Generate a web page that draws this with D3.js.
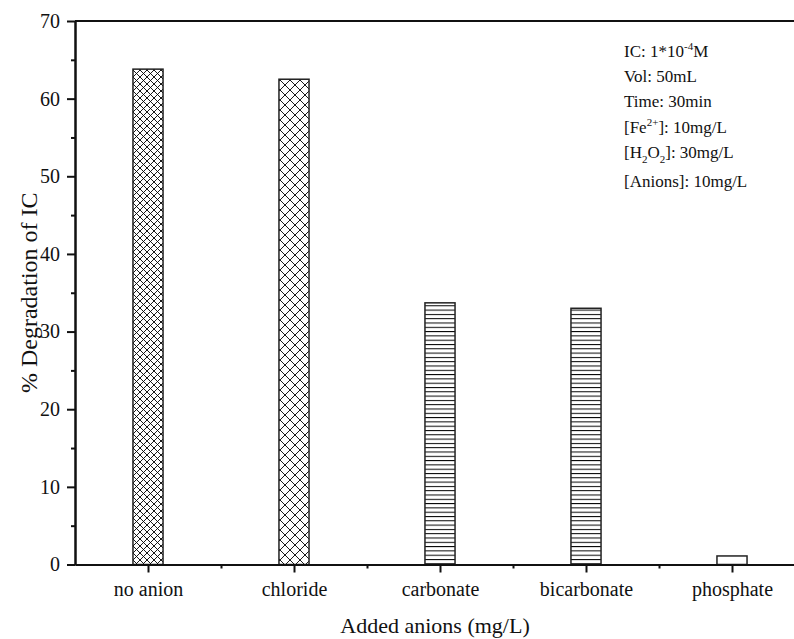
<!DOCTYPE html>
<html>
<head>
<meta charset="utf-8">
<script src="https://cdn.jsdelivr.net/npm/d3@7/dist/d3.min.js"></script>
<style>
  html, body { margin: 0; padding: 0; background: #fff; }
  svg { display: block; }
  text { font-family: "Liberation Serif", "Times New Roman", serif; fill: #111; }
</style>
</head>
<body>
<svg id="chart" width="794" height="639"></svg>
<script>
// Degradation of IC with different added anions
const categories = ["no anion", "chloride", "carbonate", "bicarbonate", "phosphate"];
const degradation = [63.8, 62.5, 33.7, 33.0, 1.1];
const fillKinds = ["cross-fine", "cross-coarse", "hlines", "hlines", "none"];
const yTicks = [0, 10, 20, 30, 40, 50, 60, 70];
const yMinorTicks = [5, 15, 25, 35, 45, 55, 65];
const xMinorTicks = [1.5, 2.5, 3.5, 4.5];

// Experimental conditions (segments: normal / superscript / subscript)
const conditions = [
  [["IC: 1*10", ""], ["-4", "sup"], ["M", ""]],
  [["Vol: 50mL", ""]],
  [["Time: 30min", ""]],
  [["[Fe", ""], ["2+", "sup"], ["]: 10mg/L", ""]],
  [["[H", ""], ["2", "sub"], ["O", ""], ["2", "sub"], ["]: 30mg/L", ""]],
  [["[Anions]: 10mg/L", ""]]
];

const svg = d3.select("#chart");
const W = 794, H = 639;
const plotLeft = 75, plotTop = 21, plotBottom = 564.5, plotRight = 805;

const x = d3.scaleLinear().domain([0.5, 5.5]).range([plotLeft, plotRight]);
const y = d3.scaleLinear().domain([0, 70]).range([plotBottom, plotTop]);

// Fill patterns
const defs = svg.append("defs");
function crossPattern(id, p) {
  const pat = defs.append("pattern").attr("id", id)
    .attr("patternUnits", "userSpaceOnUse").attr("width", p).attr("height", p);
  pat.append("rect").attr("width", p).attr("height", p).attr("fill", "#fff");
  pat.append("path")
    .attr("d", `M0,0L${p},${p}M${p},0L0,${p}`)
    .attr("stroke", "#000").attr("stroke-width", 0.9).attr("fill", "none");
}
crossPattern("cross-fine", 7);
crossPattern("cross-coarse", 10);
const hp = defs.append("pattern").attr("id", "hlines")
  .attr("patternUnits", "userSpaceOnUse").attr("width", 8).attr("height", 4.3);
hp.append("rect").attr("width", 8).attr("height", 4.3).attr("fill", "#fff");
hp.append("line").attr("x1", 0).attr("x2", 8).attr("y1", 0.5).attr("y2", 0.5)
  .attr("stroke", "#000").attr("stroke-width", 1);

// Bars
const barHalf = 0.103;
svg.append("g").selectAll("rect")
  .data(degradation)
  .join("rect")
  .attr("x", (d, i) => x(i + 1 - barHalf))
  .attr("width", (d, i) => x(i + 1 + barHalf) - x(i + 1 - barHalf))
  .attr("y", d => y(d))
  .attr("height", d => y(0) - y(d))
  .attr("fill", (d, i) => fillKinds[i] === "none" ? "#fff" : `url(#${fillKinds[i]})`)
  .attr("stroke", "#222")
  .attr("stroke-width", 1.5);

function styleAxis(g) {
  g.selectAll("path, line").attr("stroke", "#111").attr("stroke-width", 2);
  g.selectAll("text").style("font-size", "20px")
    .style("font-family", "'Liberation Serif', 'Times New Roman', serif").attr("fill", "#111");
}

// Y axis
svg.append("g").attr("transform", `translate(${plotLeft},0)`)
  .call(d3.axisLeft(y).tickValues(yTicks).tickSize(8).tickPadding(7).tickSizeOuter(0))
  .call(styleAxis);
svg.append("g").attr("transform", `translate(${plotLeft},0)`)
  .call(d3.axisLeft(y).tickValues(yMinorTicks).tickSize(4).tickFormat("").tickSizeOuter(0))
  .call(styleAxis);

// X axis
svg.append("g").attr("transform", `translate(0,${plotBottom})`)
  .call(d3.axisBottom(x).tickValues([1, 2, 3, 4, 5]).tickFormat(i => categories[i - 1])
    .tickSize(8).tickPadding(9).tickSizeOuter(0))
  .call(styleAxis);
svg.append("g").attr("transform", `translate(0,${plotBottom})`)
  .call(d3.axisBottom(x).tickValues(xMinorTicks).tickSize(4).tickFormat("").tickSizeOuter(0))
  .call(styleAxis);

// Top frame line
svg.append("line")
  .attr("x1", x(0.5)).attr("x2", x(5.5))
  .attr("y1", y(70)).attr("y2", y(70))
  .attr("stroke", "#111").attr("stroke-width", 2);

// Axis titles
svg.append("text")
  .attr("x", 435).attr("y", 633)
  .attr("text-anchor", "middle").style("font-size", "22px")
  .text("Added anions (mg/L)");
svg.append("text")
  .attr("transform", `translate(37,${(plotTop + plotBottom) / 2}) rotate(-90)`)
  .attr("text-anchor", "middle").style("font-size", "24px")
  .text("% Degradation of IC");

// Conditions note
const baselines = [56.5, 81.5, 107, 132.5, 157.5, 186.5];
const note = svg.append("g");
conditions.forEach((line, k) => {
  const t = note.append("text").attr("x", 624).attr("y", baselines[k]).style("font-size", "17px");
  let shift = 0;
  line.forEach(([s, kind]) => {
    const target = kind === "sup" ? -7 : kind === "sub" ? 5 : 0;
    const ts = t.append("tspan").text(s).attr("dy", target - shift);
    if (kind) ts.style("font-size", "11px");
    shift = target;
  });
});
</script>
</body>
</html>
